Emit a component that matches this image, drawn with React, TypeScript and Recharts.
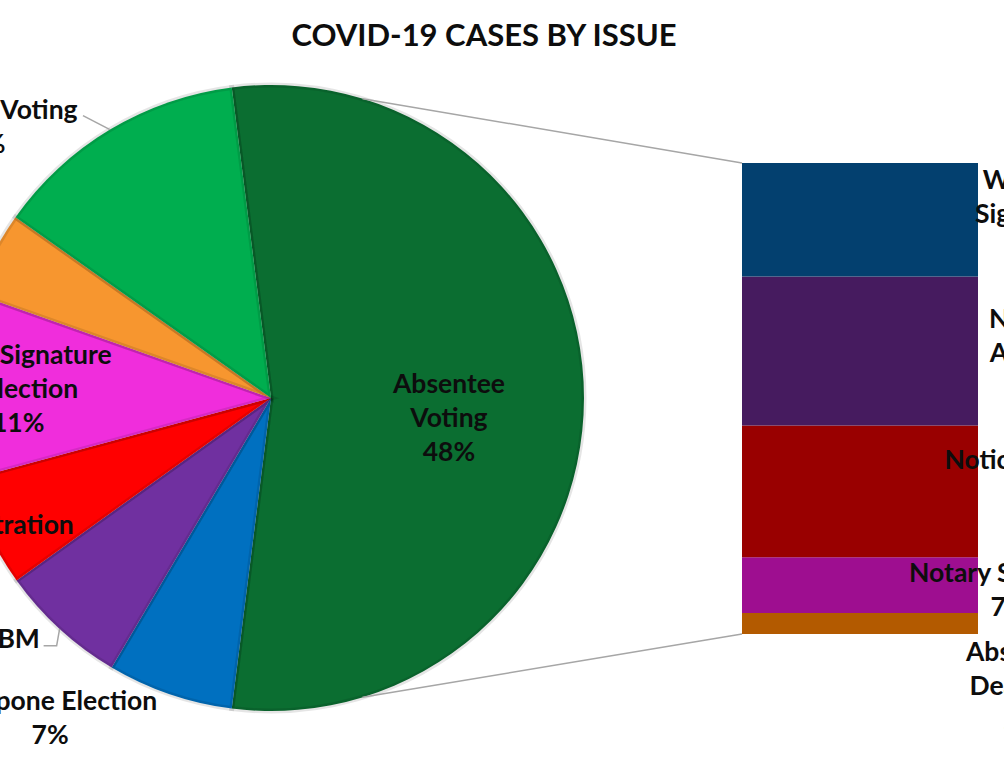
import { PieChart, Pie, Cell, BarChart, Bar, XAxis, YAxis, LabelList } from 'recharts'

const W = 1004
const H = 767
const FONT = 'Lato, "Open Sans", sans-serif'
const INK = '#0d0d0d'

// pie slices, clockwise, starting with the slice that is split out into the bar
const pieNames = ['Absentee Voting', 'Postpone Election', 'Expand VBM', 'Voter Registration', 'Ballot Signature Collection', 'Polling Places', 'In-Person Voting']
const pieValues = [54, 6.5, 6.6, 5.7, 9.6, 4.4, 13.2]
const pieLabelText = [
  ['Absentee', 'Voting', '48%'],
  ['Postpone Election', '7%'],
  ['Expand VBM', '7%'],
  ['Voter Registration', '6%'],
  ['Ballot Signature', 'Collection', '11%'],
  ['Polling Places', '4%'],
  ['In-Person Voting', '13%'],
]
const pieColors = ['#0b6e31', '#0070c0', '#7030a0', '#ff0000', '#f02ddc', '#f7962f', '#00ae4f']

// stacked bar, bottom to top
const barNames = ['Absentee Deadline', 'Notary Signature', 'Notice and Cure', 'Notary Access', 'Witness Signature']
const barValues = [2.4, 6.4, 15.1, 17.1, 13]
const barLabelText = [
  ['Absentee', 'Deadline', '2%'],
  ['Notary Signature', '7%'],
  ['Notice and Cure', '14%'],
  ['Notary', 'Access', '16%'],
  ['Witness', 'Signature', '12%'],
]
const barColors = ['#b35a00', '#9e0e90', '#990000', '#461b5f', '#03406f']

// layout
const PIE_CX = 271
const PIE_CY = 398
const PIE_R = 313
const BAR_LEFT = 742
const BAR_RIGHT = 978
const BAR_TOP = 163
const BAR_BOTTOM = 634
const CONNECT_ANGLE = 73
const LINE_H = 34
const LABEL_FONT = 26.5

// label placement: [radius, angle] from the pie centre
const pieLabelPos = [[179, -6.1], [388, -124.7], [401, -140.2], [336, -154.8], [253, -182.3], [430, -207], [399, -223]]
// bar labels: [dx from bar right edge, dy from segment middle]
const barLabelPos = [[44, 61], [31, 4], [62, -15], [52, 1], [53, -7]]

const RAD = Math.PI / 180
const polar = (cx: number, cy: number, r: number, a: number) => ({ x: cx + r * Math.cos(a * RAD), y: cy - r * Math.sin(a * RAD) })

const pieTotal = pieValues.reduce((s, v) => s + v, 0)
const startAngle = (pieValues[0] / pieTotal) * 180
const barTotal = barValues.reduce((s, v) => s + v, 0)
const barRow = [{ name: 'Absentee Voting', ...Object.fromEntries(barNames.map((n, i) => [n, barValues[i]])) }]

function Lines({ x, y, lines }: { x: number; y: number; lines: string[] }) {
  const top = y - ((lines.length - 1) * LINE_H) / 2
  return (
    <text x={x} y={top} textAnchor="middle" dominantBaseline="central" fill={INK}
      style={{ fontFamily: FONT, fontWeight: 700, fontSize: LABEL_FONT }}>
      {lines.map((l, i) => (
        <tspan key={i} x={x} y={top + i * LINE_H}>{l}</tspan>
      ))}
    </text>
  )
}

function renderPieLabel(props: any) {
  const { cx, cy, outerRadius, midAngle, index } = props
  const [r, a] = pieLabelPos[index]
  const p = polar(cx, cy, r, a)
  const edge = polar(cx, cy, outerRadius, midAngle)
  const top = polar(cx, cy, outerRadius, CONNECT_ANGLE)
  const bottom = polar(cx, cy, outerRadius, -CONNECT_ANGLE)
  return (
    <g key={index}>
      {index === 0 && (
        <>
          <line x1={top.x} y1={top.y} x2={BAR_LEFT} y2={BAR_TOP} stroke="#a6a6a6" strokeWidth={1.5} />
          <line x1={bottom.x} y1={bottom.y} x2={BAR_LEFT} y2={BAR_BOTTOM} stroke="#a6a6a6" strokeWidth={1.5} />
        </>
      )}
      {index === 6 && (
        <polyline points={`${edge.x},${edge.y} ${edge.x - 27},${edge.y - 14}`} fill="none" stroke="#a6a6a6" strokeWidth={1.5} />
      )}
      {index === 2 && (
        <polyline points={`${edge.x},${edge.y} ${edge.x - 3},${edge.y + 17} ${edge.x - 16},${edge.y + 17}`} fill="none" stroke="#a6a6a6" strokeWidth={1.5} />
      )}
      <Lines x={p.x} y={p.y} lines={pieLabelText[index]} />
    </g>
  )
}

function renderBarLabel(props: any, i: number) {
  const x = Number(props.x), y = Number(props.y), w = Number(props.width), h = Number(props.height)
  const [dx, dy] = barLabelPos[i]
  return <Lines key={i} x={x + w + dx} y={y + h / 2 + dy} lines={barLabelText[i]} />
}

export default function App() {
  const pieData = pieNames.map((name, i) => ({ name, value: pieValues[i] }))
  return (
    <div style={{ position: 'absolute', left: 0, top: 0, width: W, height: H, overflow: 'hidden', background: '#fff' }}>
      <div style={{ position: 'absolute', left: 0, top: 14, width: 968, textAlign: 'center', fontFamily: FONT, fontWeight: 700, fontSize: 31, lineHeight: '40px', color: INK }}>
        COVID-19 CASES BY ISSUE
      </div>
      <div style={{ position: 'absolute', left: 0, top: 0 }}>
        <PieChart width={W} height={H} margin={{ top: 0, right: 0, bottom: 0, left: 0 }}>
          <Pie data={pieData} dataKey="value" nameKey="name" cx={PIE_CX} cy={PIE_CY} outerRadius={PIE_R}
            startAngle={startAngle} endAngle={startAngle - 360} label={renderPieLabel} labelLine={false}
            isAnimationActive={false}>
            {pieData.map((d, i) => (
              <Cell key={d.name} fill={pieColors[i]} stroke="rgba(0,0,0,0.1)" strokeWidth={5} />
            ))}
          </Pie>
        </PieChart>
      </div>
      <div style={{ position: 'absolute', left: BAR_LEFT, top: 0 }}>
        <BarChart width={W - BAR_LEFT} height={H} data={barRow} barCategoryGap={0}
          margin={{ top: BAR_TOP, bottom: H - BAR_BOTTOM, left: 0, right: W - BAR_RIGHT }}>
          <XAxis dataKey="name" hide />
          <YAxis hide domain={[0, barTotal]} allowDataOverflow />
          {barNames.map((n, i) => (
            <Bar key={n} dataKey={n} stackId="s" fill={barColors[i]} isAnimationActive={false}>
              <LabelList dataKey={n} content={(p: any) => renderBarLabel(p, i)} />
            </Bar>
          ))}
        </BarChart>
      </div>
    </div>
  )
}
